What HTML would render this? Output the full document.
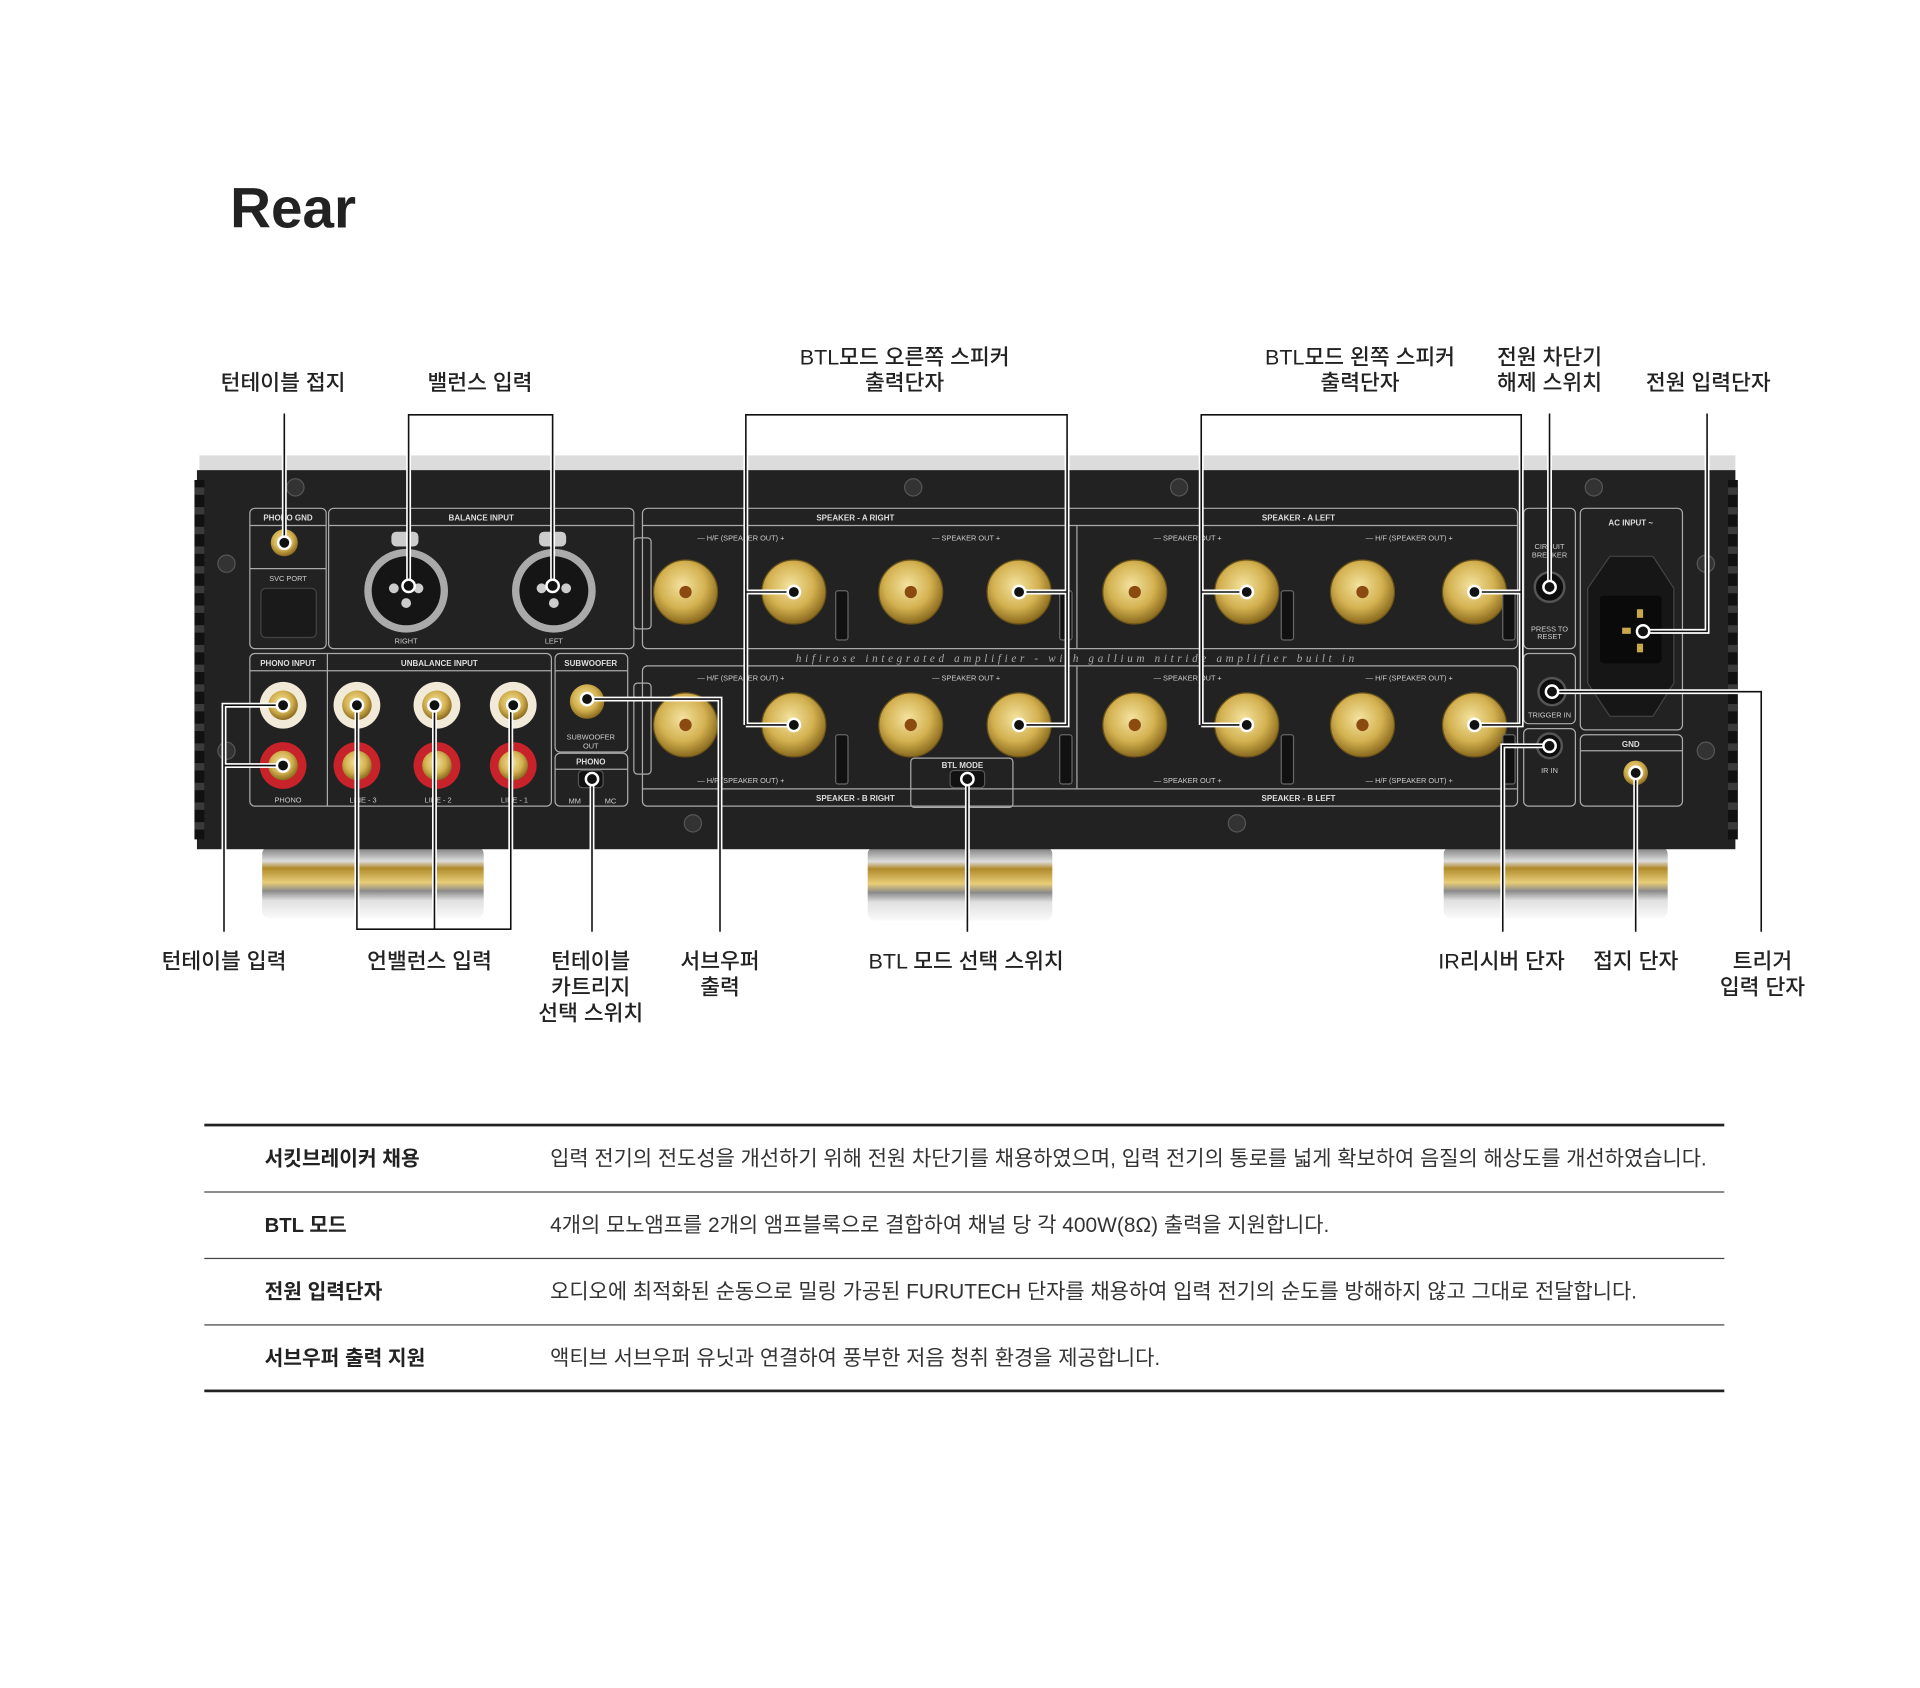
<!DOCTYPE html>
<html><head><meta charset="utf-8">
<style>
html,body{margin:0;padding:0;background:#fff;}
svg{display:block;}
text{font-family:"Liberation Sans","Noto Sans CJK KR",sans-serif;}
.lb{font-size:17.5px;font-weight:500;fill:#222;text-anchor:middle;}
.pl{font-size:6.5px;fill:#ddd;font-weight:bold;text-anchor:middle;}
.ps{font-size:6px;fill:#ccc;text-anchor:middle;}
.box{fill:none;stroke:#aaa;stroke-width:1;}
.cl{fill:none;stroke:#111;stroke-width:1.3;}
.clw{fill:none;stroke:#fff;stroke-width:4;}
.dot{fill:#111;stroke:#fff;stroke-width:2;}
.t1{font-size:16.5px;font-weight:bold;fill:#222;}
.t2{font-size:17px;fill:#333;}
</style></head><body>
<svg width="1920" height="1688" viewBox="0 0 1560 1371.5" xmlns="http://www.w3.org/2000/svg">
<defs>
<radialGradient id="gold" cx="45%" cy="40%" r="60%"><stop offset="0" stop-color="#f4e3a0"/><stop offset=".6" stop-color="#d3b150"/><stop offset="1" stop-color="#8a6a1e"/></radialGradient>
<linearGradient id="foot" x1="0" y1="0" x2="0" y2="1"><stop offset="0" stop-color="#777"/><stop offset=".2" stop-color="#ddd"/><stop offset=".3" stop-color="#b08a2a"/><stop offset=".5" stop-color="#e8cd78"/><stop offset=".62" stop-color="#8a8a8a"/><stop offset=".75" stop-color="#e0e0e0"/><stop offset="1" stop-color="#fafafa"/></linearGradient>
</defs>
<rect width="1560" height="1372" fill="#fff"/>
<text x="187" y="185" style="font-size:46px;font-weight:600;fill:#222">Rear</text>

<!-- feet -->
<rect x="213" y="688" width="180" height="58" rx="6" fill="url(#foot)"/>
<rect x="705" y="688" width="150" height="60" rx="6" fill="url(#foot)"/>
<rect x="1173" y="688" width="182" height="58" rx="6" fill="url(#foot)"/>

<!-- chassis -->
<rect x="162" y="370" width="1248" height="13" fill="#dcdcdc"/>
<rect x="160" y="382" width="1250" height="308" fill="#222"/>
<g fill="#111">
<rect x="158" y="390" width="8" height="292"/><rect x="1404" y="390" width="8" height="292"/>
</g>
<g fill="#3a3a3a">
<rect x="158" y="396" width="8" height="6"/><rect x="158" y="412" width="8" height="6"/><rect x="158" y="428" width="8" height="6"/><rect x="158" y="444" width="8" height="6"/><rect x="158" y="460" width="8" height="6"/><rect x="158" y="476" width="8" height="6"/><rect x="158" y="492" width="8" height="6"/><rect x="158" y="508" width="8" height="6"/><rect x="158" y="524" width="8" height="6"/><rect x="158" y="540" width="8" height="6"/><rect x="158" y="556" width="8" height="6"/><rect x="158" y="572" width="8" height="6"/><rect x="158" y="588" width="8" height="6"/><rect x="158" y="604" width="8" height="6"/><rect x="158" y="620" width="8" height="6"/><rect x="158" y="636" width="8" height="6"/><rect x="158" y="652" width="8" height="6"/><rect x="158" y="668" width="8" height="6"/>
<rect x="1404" y="396" width="8" height="6"/><rect x="1404" y="412" width="8" height="6"/><rect x="1404" y="428" width="8" height="6"/><rect x="1404" y="444" width="8" height="6"/><rect x="1404" y="460" width="8" height="6"/><rect x="1404" y="476" width="8" height="6"/><rect x="1404" y="492" width="8" height="6"/><rect x="1404" y="508" width="8" height="6"/><rect x="1404" y="524" width="8" height="6"/><rect x="1404" y="540" width="8" height="6"/><rect x="1404" y="556" width="8" height="6"/><rect x="1404" y="572" width="8" height="6"/><rect x="1404" y="588" width="8" height="6"/><rect x="1404" y="604" width="8" height="6"/><rect x="1404" y="620" width="8" height="6"/><rect x="1404" y="636" width="8" height="6"/><rect x="1404" y="652" width="8" height="6"/><rect x="1404" y="668" width="8" height="6"/>
</g>
<g fill="#333" stroke="#555">
<circle cx="184" cy="458" r="7"/><circle cx="184" cy="610" r="7"/><circle cx="1386" cy="458" r="7"/><circle cx="1386" cy="610" r="7"/>
<circle cx="240" cy="396" r="7"/><circle cx="742" cy="396" r="7"/><circle cx="958" cy="396" r="7"/><circle cx="1295" cy="396" r="7"/>
<circle cx="563" cy="669" r="7"/><circle cx="1005" cy="669" r="7"/>
</g>

<g class="box">
<rect x="203" y="413" width="62" height="114" rx="4"/><line x1="203" y1="462" x2="265" y2="462"/><line x1="203" y1="427" x2="265" y2="427"/>
<rect x="267" y="413" width="248" height="114" rx="4"/><line x1="267" y1="427" x2="515" y2="427"/>
<rect x="522" y="413" width="711" height="114" rx="4"/><line x1="522" y1="427" x2="1233" y2="427"/><line x1="875" y1="427" x2="875" y2="527"/>
<rect x="203" y="531" width="245" height="124" rx="4"/><line x1="203" y1="545" x2="448" y2="545"/><line x1="266" y1="531" x2="266" y2="655"/>
<rect x="451" y="531" width="59" height="80" rx="4"/><line x1="451" y1="545" x2="510" y2="545"/>
<rect x="451" y="612" width="59" height="43" rx="4"/><line x1="451" y1="625" x2="510" y2="625"/>
<rect x="522" y="541" width="711" height="114" rx="4"/><line x1="522" y1="641" x2="1233" y2="641"/><line x1="875" y1="541" x2="875" y2="641"/>
<rect x="740" y="616" width="83" height="40" rx="3"/>
<rect x="1238" y="413" width="42" height="114" rx="4"/>
<rect x="1238" y="531" width="42" height="57" rx="4"/>
<rect x="1238" y="592" width="42" height="63" rx="4"/>
<rect x="1284" y="413" width="83" height="180" rx="4"/>
<rect x="1284" y="597" width="83" height="58" rx="4"/><line x1="1284" y1="610" x2="1367" y2="610"/>
<rect x="515" y="437" width="14" height="74" rx="3"/><rect x="515" y="555" width="14" height="74" rx="3"/>
</g>
<g>
<text class="pl" x="234" y="423">PHONO GND</text><text class="ps" x="234" y="472">SVC PORT</text>
<rect x="212" y="478" width="45" height="40" rx="4" fill="#1a1a1a" stroke="#444"/>
<text class="pl" x="391" y="423">BALANCE INPUT</text>
<text class="pl" x="695" y="423">SPEAKER - A  RIGHT</text><text class="pl" x="1055" y="423">SPEAKER - A  LEFT</text>
<text class="pl" x="234" y="541">PHONO INPUT</text><text class="pl" x="357" y="541">UNBALANCE INPUT</text><text class="pl" x="480" y="541">SUBWOOFER</text>
<text class="pl" x="480" y="621">PHONO</text><text class="ps" x="480" y="601">SUBWOOFER</text><text class="ps" x="480" y="608">OUT</text>
<text class="ps" x="467" y="653">MM</text><text class="ps" x="496" y="653">MC</text>
<text class="pl" x="695" y="651">SPEAKER - B  RIGHT</text><text class="pl" x="1055" y="651">SPEAKER - B  LEFT</text>
<text class="pl" x="782" y="624">BTL MODE</text>
<text class="ps" x="602" y="439">— H/F (SPEAKER OUT) +</text><text class="ps" x="785" y="439">—  SPEAKER OUT  +</text>
<text class="ps" x="965" y="439">—  SPEAKER OUT  +</text><text class="ps" x="1145" y="439">— H/F (SPEAKER OUT) +</text>
<text class="ps" x="602" y="553">— H/F (SPEAKER OUT) +</text><text class="ps" x="785" y="553">—  SPEAKER OUT  +</text>
<text class="ps" x="965" y="553">—  SPEAKER OUT  +</text><text class="ps" x="1145" y="553">— H/F (SPEAKER OUT) +</text>
<text class="ps" x="602" y="636">— H/F (SPEAKER OUT) +</text><text class="ps" x="965" y="636">—  SPEAKER OUT  +</text><text class="ps" x="1145" y="636">— H/F (SPEAKER OUT) +</text>
<text class="ps" x="1259" y="446">CIRCUIT</text><text class="ps" x="1259" y="453">BREAKER</text><text class="ps" x="1259" y="513">PRESS TO</text><text class="ps" x="1259" y="519">RESET</text>
<text class="ps" x="1259" y="583">TRIGGER IN</text><text class="ps" x="1259" y="628">IR IN</text>
<text class="pl" x="1325" y="427">AC INPUT ~</text><text class="pl" x="1325" y="607">GND</text>
<text class="ps" x="330" y="523">RIGHT</text><text class="ps" x="450" y="523">LEFT</text>
<text class="ps" x="234" y="652">PHONO</text><text class="ps" x="295" y="652">LINE - 3</text><text class="ps" x="356" y="652">LINE - 2</text><text class="ps" x="418" y="652">LINE - 1</text>
<text x="875" y="538" style="font-family:'Liberation Serif',serif;font-style:italic;font-size:9px;fill:#aaa;text-anchor:middle;letter-spacing:3px">hifirose integrated amplifier - with gallium nitride amplifier built in</text>
</g>
<g>
<circle cx="330" cy="480" r="34" fill="#aaa"/><circle cx="330" cy="480" r="28" fill="#151515"/>
<circle cx="450" cy="480" r="34" fill="#aaa"/><circle cx="450" cy="480" r="28" fill="#151515"/>
<g fill="#ccc"><circle cx="320" cy="478" r="4"/><circle cx="340" cy="478" r="4"/><circle cx="330" cy="490" r="4"/><circle cx="440" cy="478" r="4"/><circle cx="460" cy="478" r="4"/><circle cx="450" cy="490" r="4"/></g>
<rect x="318" y="432" width="22" height="12" rx="4" fill="#ccc"/><rect x="438" y="432" width="22" height="12" rx="4" fill="#ccc"/>
</g>
<circle cx="231" cy="441" r="11" fill="url(#gold)"/>
<g>
<circle cx="230" cy="573" r="19" fill="#f1ead8"/><circle cx="290" cy="573" r="19" fill="#f1ead8"/><circle cx="355" cy="573" r="19" fill="#f1ead8"/><circle cx="417" cy="573" r="19" fill="#f1ead8"/>
<circle cx="230" cy="622" r="19" fill="#c8222a"/><circle cx="290" cy="622" r="19" fill="#c8222a"/><circle cx="355" cy="622" r="19" fill="#c8222a"/><circle cx="417" cy="622" r="19" fill="#c8222a"/>
<g fill="url(#gold)"><circle cx="230" cy="573" r="12"/><circle cx="290" cy="573" r="12"/><circle cx="355" cy="573" r="12"/><circle cx="417" cy="573" r="12"/><circle cx="230" cy="622" r="12"/><circle cx="290" cy="622" r="12"/><circle cx="355" cy="622" r="12"/><circle cx="417" cy="622" r="12"/><circle cx="477" cy="570" r="14"/></g>
<rect x="470" y="626" width="20" height="14" rx="3" fill="#111" stroke="#555"/>
<rect x="772" y="626" width="28" height="14" rx="3" fill="#111" stroke="#555"/>
</g>
<g fill="url(#gold)" stroke="#6a5218" stroke-width="1">
<circle cx="557" cy="481" r="26"/><circle cx="645" cy="481" r="26"/><circle cx="740" cy="481" r="26"/><circle cx="828" cy="481" r="26"/><circle cx="922" cy="481" r="26"/><circle cx="1013" cy="481" r="26"/><circle cx="1107" cy="481" r="26"/><circle cx="1198" cy="481" r="26"/>
<circle cx="557" cy="589" r="26"/><circle cx="645" cy="589" r="26"/><circle cx="740" cy="589" r="26"/><circle cx="828" cy="589" r="26"/><circle cx="922" cy="589" r="26"/><circle cx="1013" cy="589" r="26"/><circle cx="1107" cy="589" r="26"/><circle cx="1198" cy="589" r="26"/>
</g>
<g fill="#8a4a10">
<circle cx="557" cy="481" r="5"/><circle cx="740" cy="481" r="5"/><circle cx="922" cy="481" r="5"/><circle cx="1107" cy="481" r="5"/>
<circle cx="557" cy="589" r="5"/><circle cx="740" cy="589" r="5"/><circle cx="922" cy="589" r="5"/><circle cx="1107" cy="589" r="5"/>
</g>
<g fill="#111" stroke="#666"><rect x="679" y="480" width="10" height="40" rx="2"/><rect x="861" y="480" width="10" height="40" rx="2"/><rect x="1041" y="480" width="10" height="40" rx="2"/><rect x="1221" y="480" width="10" height="40" rx="2"/>
<rect x="679" y="597" width="10" height="40" rx="2"/><rect x="861" y="597" width="10" height="40" rx="2"/><rect x="1041" y="597" width="10" height="40" rx="2"/><rect x="1221" y="597" width="10" height="40" rx="2"/></g>
<g fill="#0d0d0d" stroke="#555" stroke-width="2"><circle cx="1259" cy="477" r="12"/><circle cx="1261" cy="562" r="11"/><circle cx="1259" cy="606" r="10"/></g>
<path d="M1308 452 L1343 452 L1360 478 L1360 555 L1343 582 L1308 582 L1290 555 L1290 478 Z" fill="#161616" stroke="#444"/>
<rect x="1300" y="484" width="50" height="55" rx="3" fill="#0a0a0a"/>
<g fill="#c9a84c"><rect x="1330" y="495" width="5" height="7"/><rect x="1318" y="510" width="7" height="5"/><rect x="1330" y="523" width="5" height="7"/></g>
<circle cx="1329" cy="628" r="10" fill="url(#gold)"/>

<g class="clw">
<path d="M231 336 V441"/><path d="M332 476 V337 H449 V476"/>
<path d="M645 481 H606 V337 H867 V589 H828 M867 481 H828 M606 589 H645 M606 481 V589"/>
<path d="M1013 481 H976 V337 H1236 V589 H1198 M1236 481 H1198 M976 589 H1013 M976 481 V589"/>
<path d="M1259 336 V477"/><path d="M1387 336 V513 H1335"/>
<path d="M182 757 V573 H230 M182 622 H230"/>
<path d="M290 573 V755 H415 V573 M353 573 V755"/>
<path d="M481 757 V633"/><path d="M585 757 V568 H477"/><path d="M786 757 V633"/>
<path d="M1221 757 V606 H1259"/><path d="M1329 757 V628"/><path d="M1431 757 V562 H1261"/>
</g>
<g class="cl">
<path d="M231 336 V441"/><path d="M332 476 V337 H449 V476"/>
<path d="M645 481 H606 V337 H867 V589 H828 M867 481 H828 M606 589 H645 M606 481 V589"/>
<path d="M1013 481 H976 V337 H1236 V589 H1198 M1236 481 H1198 M976 589 H1013 M976 481 V589"/>
<path d="M1259 336 V477"/><path d="M1387 336 V513 H1335"/>
<path d="M182 757 V573 H230 M182 622 H230"/>
<path d="M290 573 V755 H415 V573 M353 573 V755"/>
<path d="M481 757 V633"/><path d="M585 757 V568 H477"/><path d="M786 757 V633"/>
<path d="M1221 757 V606 H1259"/><path d="M1329 757 V628"/><path d="M1431 757 V562 H1261"/>
</g>
<g class="dot">
<circle cx="231" cy="441" r="5"/><circle cx="332" cy="476" r="5"/><circle cx="449" cy="476" r="5"/>
<circle cx="645" cy="481" r="5"/><circle cx="828" cy="481" r="5"/><circle cx="645" cy="589" r="5"/><circle cx="828" cy="589" r="5"/>
<circle cx="1013" cy="481" r="5"/><circle cx="1198" cy="481" r="5"/><circle cx="1013" cy="589" r="5"/><circle cx="1198" cy="589" r="5"/>
<circle cx="1259" cy="477" r="5"/><circle cx="1335" cy="513" r="5"/>
<circle cx="230" cy="573" r="5"/><circle cx="230" cy="622" r="5"/><circle cx="290" cy="573" r="5"/><circle cx="353" cy="573" r="5"/><circle cx="417" cy="573" r="5"/>
<circle cx="481" cy="633" r="5"/><circle cx="477" cy="568" r="5"/><circle cx="786" cy="633" r="5"/>
<circle cx="1259" cy="606" r="5"/><circle cx="1329" cy="628" r="5"/><circle cx="1261" cy="562" r="5"/>
</g>

<text class="lb" x="230" y="317">턴테이블 접지</text>
<text class="lb" x="390" y="317">밸런스 입력</text>
<text class="lb" x="735" y="296">BTL모드 오른쪽 스피커</text><text class="lb" x="735" y="317">출력단자</text>
<text class="lb" x="1105" y="296">BTL모드 왼쪽 스피커</text><text class="lb" x="1105" y="317">출력단자</text>
<text class="lb" x="1259" y="296">전원 차단기</text><text class="lb" x="1259" y="317">해제 스위치</text>
<text class="lb" x="1388" y="317">전원 입력단자</text>
<text class="lb" x="182" y="787">턴테이블 입력</text>
<text class="lb" x="349" y="787">언밸런스 입력</text>
<text class="lb" x="480" y="787">턴테이블</text><text class="lb" x="480" y="808">카트리지</text><text class="lb" x="480" y="829">선택 스위치</text>
<text class="lb" x="585" y="787">서브우퍼</text><text class="lb" x="585" y="808">출력</text>
<text class="lb" x="785" y="787">BTL 모드 선택 스위치</text>
<text class="lb" x="1220" y="787">IR리시버 단자</text>
<text class="lb" x="1329" y="787">접지 단자</text>
<text class="lb" x="1432" y="787">트리거</text><text class="lb" x="1432" y="808">입력 단자</text>

<rect x="166" y="913" width="1235" height="2.2" fill="#222"/>
<rect x="166" y="968" width="1235" height="1" fill="#444"/>
<rect x="166" y="1022" width="1235" height="1" fill="#444"/>
<rect x="166" y="1076" width="1235" height="1" fill="#444"/>
<rect x="166" y="1129" width="1235" height="2.2" fill="#222"/>
<text class="t1" x="215" y="947">서킷브레이커 채용</text>
<text class="t2" x="447" y="947">입력 전기의 전도성을 개선하기 위해 전원 차단기를 채용하였으며, 입력 전기의 통로를 넓게 확보하여 음질의 해상도를 개선하였습니다.</text>
<text class="t1" x="215" y="1001">BTL 모드</text>
<text class="t2" x="447" y="1001">4개의 모노앰프를 2개의 앰프블록으로 결합하여 채널 당 각 400W(8Ω) 출력을 지원합니다.</text>
<text class="t1" x="215" y="1055">전원 입력단자</text>
<text class="t2" x="447" y="1055">오디오에 최적화된 순동으로 밀링 가공된 FURUTECH 단자를 채용하여 입력 전기의 순도를 방해하지 않고 그대로 전달합니다.</text>
<text class="t1" x="215" y="1109">서브우퍼 출력 지원</text>
<text class="t2" x="447" y="1109">액티브 서브우퍼 유닛과 연결하여 풍부한 저음 청취 환경을 제공합니다.</text>
</svg>
</body></html>
